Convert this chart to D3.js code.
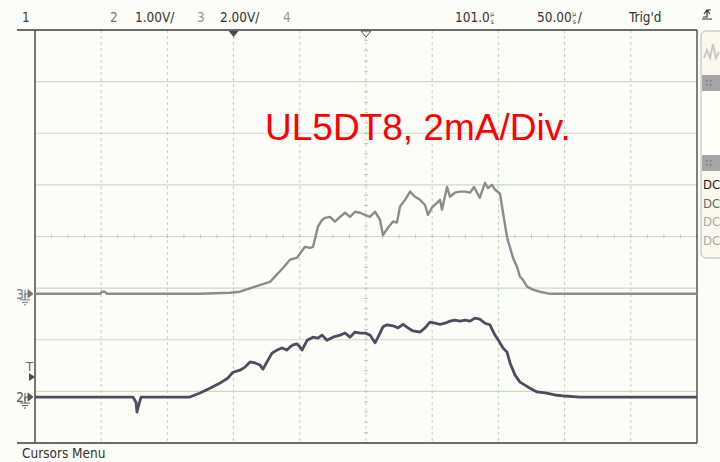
<!DOCTYPE html>
<html>
<head>
<meta charset="utf-8">
<script src="https://cdn.jsdelivr.net/npm/d3@7"></script>
<style>
  html, body { margin: 0; padding: 0; background: #fcfcf8; }
  svg { display: block; }
</style>
</head>
<body>
<svg id="scope" width="720" height="462"></svg>
<script>
// ── Data: time in µs from left edge, level in divisions above channel ground ──
const ch3T = [0, 49.1, 50.6, 52.9, 54.4, 124.6, 147.3, 154.8, 166.2, 177.5, 187.3, 192.6, 197.9, 203.9, 207.7, 210.0,
  213.7, 216.8, 219.0, 222.8, 226.6, 230.4, 234.2, 237.9, 241.7, 245.5, 249.2, 253.0, 256.8, 260.6, 262.8, 266.6,
  270.4, 273.4, 275.7, 279.5, 283.3, 287.0, 290.8, 294.6, 296.8, 299.8, 303.6, 305.9, 307.4, 311.2, 313.4, 317.2,
  321.0, 324.8, 328.6, 331.6, 335.9, 339.9, 342.1, 345.2, 347.4, 351.2, 353.5, 356.5, 361.0, 364.1, 366.3, 368.6,
  371.6, 376.1, 381.4, 389.0, 500];
const ch3V = [0, 0, 0.04, 0.04, 0, 0, 0.02, 0.04, 0.14, 0.23, 0.50, 0.66, 0.70, 0.91, 0.89, 0.91,
  1.30, 1.43, 1.47, 1.49, 1.40, 1.49, 1.57, 1.49, 1.59, 1.57, 1.53, 1.49, 1.59, 1.43, 1.14, 1.28,
  1.40, 1.38, 1.69, 1.82, 1.98, 1.88, 1.82, 1.72, 1.53, 1.67, 1.76, 1.82, 1.63, 2.07, 1.88, 1.96,
  1.98, 1.98, 1.96, 2.07, 1.86, 2.15, 2.05, 2.11, 2.02, 1.94, 1.57, 1.10, 0.70, 0.52, 0.33, 0.27,
  0.14, 0.08, 0.04, 0, 0];

const ch2T = [0, 74.0, 76.3, 77.0, 78.5, 80.1, 117.1, 120.8, 124.6, 132.2, 139.7, 145.8, 149.5, 154.8, 158.6, 162.4,
  166.2, 169.9, 172.2, 175.2, 179.0, 182.8, 186.6, 190.3, 192.6, 194.9, 197.9, 200.1, 201.7, 205.5, 210.0, 213.7,
  216.8, 220.5, 225.1, 230.4, 234.2, 237.9, 241.7, 245.5, 249.2, 253.0, 256.8, 259.1, 262.8, 265.9, 270.4, 274.2,
  278.0, 281.7, 285.5, 290.8, 294.6, 298.3, 302.1, 305.9, 309.7, 313.4, 317.2, 321.0, 324.8, 328.6, 332.3, 335.9,
  339.9, 343.6, 347.4, 351.2, 353.5, 356.5, 358.8, 362.5, 366.3, 370.1, 373.9, 379.2, 385.2, 392.8, 400.3, 411.6, 500];
const ch2V = [0, 0, -0.10, -0.29, -0.14, 0, 0, 0.04, 0.08, 0.17, 0.27, 0.37, 0.48, 0.52, 0.58, 0.68,
  0.66, 0.62, 0.54, 0.68, 0.85, 0.91, 0.95, 0.91, 0.97, 1.01, 1.03, 0.97, 0.91, 1.10, 1.16, 1.14,
  1.20, 1.10, 1.16, 1.20, 1.24, 1.16, 1.26, 1.24, 1.24, 1.20, 1.05, 1.16, 1.36, 1.40, 1.38, 1.34,
  1.41, 1.34, 1.28, 1.26, 1.34, 1.45, 1.43, 1.41, 1.43, 1.47, 1.49, 1.47, 1.49, 1.47, 1.53, 1.51,
  1.43, 1.40, 1.20, 1.05, 0.95, 0.87, 0.66, 0.43, 0.29, 0.23, 0.17, 0.10, 0.08, 0.04, 0.02, 0, 0];

const ch3Ground = -1.11, ch2Ground = -3.11;   // divisions from screen centre
const headerLeft = ['1', '2', '1.00V/', '3', '2.00V/', '4'];
const headerRight = ['101.0', '50.00', 'Trig\'d'];
const title = 'UL5DT8, 2mA/Div.';
const footer = 'Cursors Menu';
const couplings = ['DC', 'DC', 'DC', 'DC'];

// ── Scales ──
const svg = d3.select('#scope');
const x = d3.scaleLinear().domain([0, 500]).range([35, 697]);
const y = d3.scaleLinear().domain([-4, 4]).range([443, 30]);
const FONT = '"DejaVu Sans Condensed", "DejaVu Sans", sans-serif';

// ── Graticule ──
const grid = svg.append('g');
grid.selectAll('line.h').data(d3.range(-3, 4)).enter().append('line')
  .attr('x1', x(0)).attr('x2', x(500)).attr('y1', d => y(d)).attr('y2', d => y(d))
  .attr('stroke', '#c9dcc2').attr('stroke-width', 1.2);
grid.selectAll('line.v').data(d3.range(50, 500, 50)).enter().append('line')
  .attr('x1', d => x(d)).attr('x2', d => x(d)).attr('y1', y(4)).attr('y2', y(-4))
  .attr('stroke', '#bcd6b3').attr('stroke-width', 1).attr('stroke-dasharray', '3,3');
// minor ticks on centre lines
grid.selectAll('line.mx').data(d3.range(0, 500.1, 12.5)).enter().append('line')
  .attr('x1', d => x(d)).attr('x2', d => x(d)).attr('y1', y(0) - 2).attr('y2', y(0) + 2)
  .attr('stroke', '#b6cfae').attr('stroke-width', 1);
grid.selectAll('line.my').data(d3.range(-4, 4.01, 0.2)).enter().append('line')
  .attr('y1', d => y(d)).attr('y2', d => y(d)).attr('x1', x(250) - 2).attr('x2', x(250) + 2)
  .attr('stroke', '#b6cfae').attr('stroke-width', 1);

// ── Frame ──
const frame = svg.append('g').attr('stroke', '#3c3c3c').attr('stroke-width', 1.3).attr('fill', 'none');
frame.append('line').attr('x1', 17).attr('x2', 697).attr('y1', 30).attr('y2', 30);
frame.append('line').attr('x1', 17).attr('x2', 697).attr('y1', 443).attr('y2', 443);
frame.append('line').attr('x1', 35).attr('x2', 35).attr('y1', 30).attr('y2', 443).attr('stroke', '#555').attr('stroke-width', 1.6);
frame.append('line').attr('x1', 697).attr('x2', 697).attr('y1', 30).attr('y2', 443);

// top markers
svg.append('path').attr('d', `M${x(150) - 5},31 h10 l-5,6 z`).attr('fill', '#4a4a56');
svg.append('path').attr('d', `M${x(250) - 5},31 h10 l-5,6 z`).attr('fill', 'none').attr('stroke', '#555').attr('stroke-width', 1);

// ── Traces ──
const line = (g) => d3.line().x(d => x(d[0])).y(d => y(d[1] + g));
svg.append('path').datum(ch3T.map((t, i) => [t, ch3V[i]]))
  .attr('d', line(ch3Ground)).attr('fill', 'none')
  .attr('stroke', '#8c8c8c').attr('stroke-width', 2.4).attr('stroke-linejoin', 'round');
svg.append('path').datum(ch2T.map((t, i) => [t, ch2V[i]]))
  .attr('d', line(ch2Ground)).attr('fill', 'none')
  .attr('stroke', '#4d4d5e').attr('stroke-width', 2.8).attr('stroke-linejoin', 'round');

// ── Ground markers ──
function groundMark(label, gy, col) {
  const g = svg.append('g');
  g.append('text').text(label).attr('x', 16).attr('y', gy + 5).attr('font-size', 14)
    .attr('font-family', FONT).attr('fill', col);
  g.append('path').attr('d', `M25,${gy - 4} v8 M25,${gy} h3 M28,${gy - 4} l5,4 l-5,4 z`)
    .attr('stroke', col).attr('fill', col).attr('stroke-width', 1);
  g.append('path').attr('d', `M25,${gy} v6 M20,${gy + 6} h10 M22,${gy + 8.5} h6 M24,${gy + 11} h2`)
    .attr('stroke', col).attr('stroke-width', 1).attr('fill', 'none');
}
groundMark('3', y(ch3Ground), '#777');
groundMark('2', y(ch2Ground), '#555');
svg.append('text').text('T').attr('x', 26).attr('y', 371).attr('font-size', 13)
  .attr('font-family', FONT).attr('fill', '#666');
svg.append('path').attr('d', 'M29,373 l6,4 l-6,4 z').attr('fill', '#4a4a56');

// ── Header ──
const hdr = svg.append('g').attr('font-family', FONT).attr('font-size', 13.5);
const hx = [22, 110, 135, 197, 220, 283];
const hc = ['#444', '#777', '#333', '#999', '#333', '#999'];
headerLeft.forEach((t, i) => hdr.append('text').text(t).attr('x', hx[i]).attr('y', 22).attr('fill', hc[i]));
// value followed by a small stacked "µ over s" unit, as the scope draws it
function usText(val, xx, slash) {
  const t = hdr.append('text').text(val).attr('x', xx).attr('y', 22).attr('fill', '#333');
  const w = t.node().getComputedTextLength();
  hdr.append('text').text('µ').attr('x', xx + w + 0.5).attr('y', 15.5).attr('font-size', 6.5).attr('fill', '#333');
  hdr.append('text').text('s').attr('x', xx + w + 1).attr('y', 24).attr('font-size', 6.5).attr('fill', '#333');
  if (slash) hdr.append('text').text('/').attr('x', xx + w + 6).attr('y', 22).attr('fill', '#333');
}
usText(headerRight[0], 455, false);
usText(headerRight[1], 537, true);
hdr.append('text').text(headerRight[2]).attr('x', 629).attr('y', 22).attr('fill', '#333');
// trigger slope icon
svg.append('path').attr('d', 'M703,17 h4 v-7 h4 M704,14 l3,-4 l3,4 M702,19 h10')
  .attr('stroke', '#333').attr('stroke-width', 1.2).attr('fill', 'none');

// ── Right panel ──
const panel = svg.append('g');
panel.append('rect').attr('x', 701).attr('y', 31).attr('width', 30).attr('height', 227).attr('rx', 5)
  .attr('fill', '#fbf8ee').attr('stroke', '#b8b8b8');
panel.append('path').attr('d', 'M704,58 l3,-8 l3,8 l3,-14 l3,14 l3,-6')
  .attr('stroke', '#c9c9c9').attr('stroke-width', 2).attr('fill', 'none');
[75, 155].forEach(by => {
  panel.append('rect').attr('x', 702).attr('y', by).attr('width', 20).attr('height', 16).attr('fill', '#a5a5a5');
  [0, 4].forEach(dx => [0, 4].forEach(dy => panel.append('rect')
    .attr('x', 706 + dx).attr('y', by + 5 + dy).attr('width', 1.5).attr('height', 1.5).attr('fill', '#7a7a7a')));
});
panel.append('rect').attr('x', 702).attr('y', 91).attr('width', 20).attr('height', 64).attr('fill', '#fffffa');
const dcCol = ['#222', '#666', '#aaa', '#aaa'];
couplings.forEach((t, i) => panel.append('text').text(t).attr('x', 703).attr('y', 189 + i * 18.5)
  .attr('font-family', FONT).attr('font-size', 13).attr('fill', dcCol[i]));

// ── Title & footer ──
svg.append('text').text(title).attr('x', 265).attr('y', 140)
  .attr('font-family', '"Liberation Sans", Arial, sans-serif').attr('font-size', 37).attr('fill', '#ff0000');
svg.append('text').text(footer).attr('x', 22).attr('y', 458)
  .attr('font-family', FONT).attr('font-size', 13.5).attr('fill', '#333');
</script>
</body>
</html>
